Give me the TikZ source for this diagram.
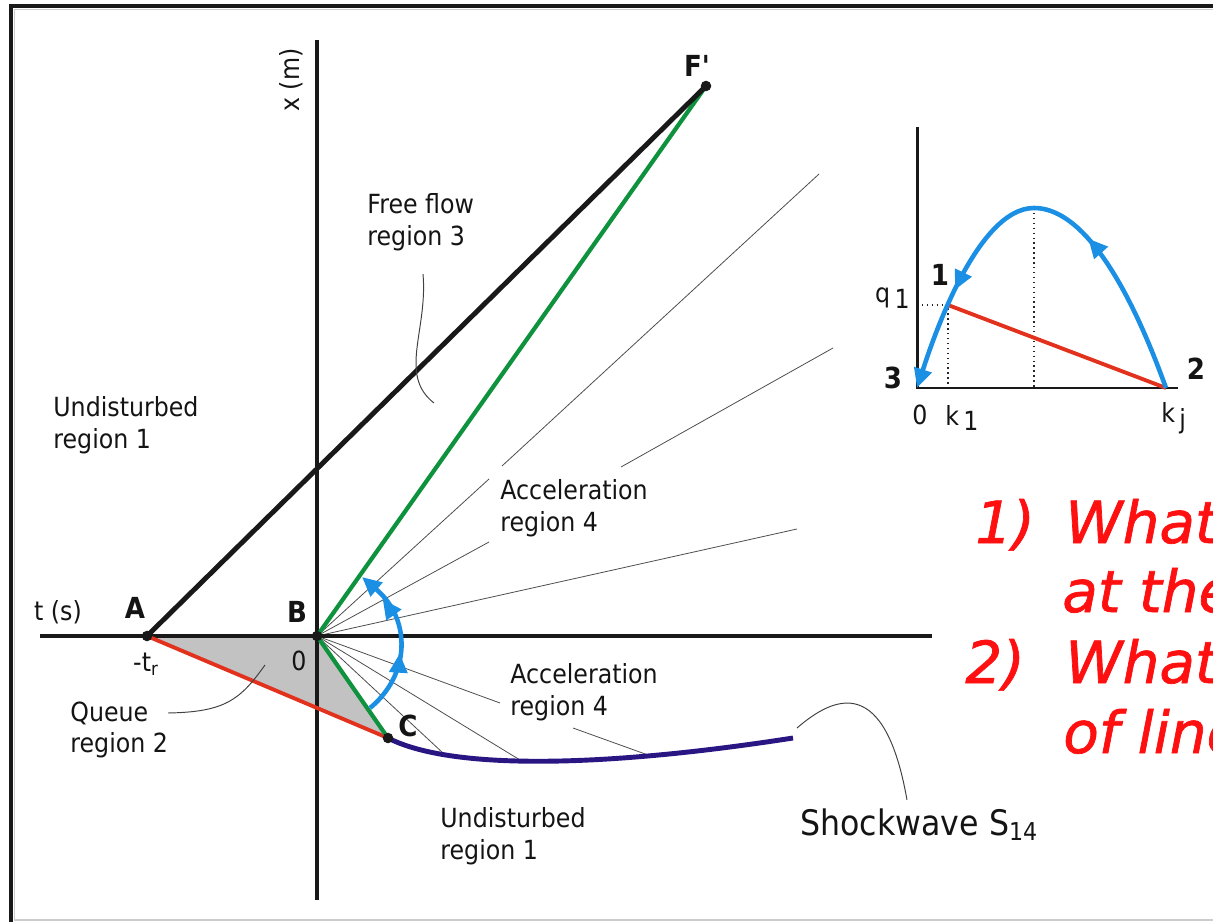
\documentclass[tikz,border=0pt]{standalone}
\usepackage{fontspec}
\usepackage{tikz}
\usetikzlibrary{arrows.meta, decorations.markings}
\newfontfamily\lblfont{DejaVu Sans}[FakeStretch=0.9]
\newfontfamily\askfont{DejaVu Sans}[FakeBold=1.2]
\definecolor{KW_RED}{HTML}{E2321E}
\definecolor{KW_GREEN}{HTML}{0E923E}
\definecolor{KW_BLUE}{HTML}{1A8FE3}
\definecolor{KW_NAVY}{HTML}{2A1682}
\definecolor{KW_FILL}{HTML}{C2C2C2}
\definecolor{KW_ASK}{HTML}{FF1010}
\definecolor{KW_EDGE}{HTML}{CCCCCC}
\tikzset{
  lbl/.style={inner sep=0pt, align=left, text=black!92,
    font=\lblfont\fontsize{15pt}{18.1pt}\selectfont},
  pnt/.style={inner sep=0pt, text=black!92,
    font=\lblfont\bfseries\fontsize{16.5pt}{19pt}\selectfont},
  ask/.style={inner sep=0pt, anchor=base west, text=KW_ASK,
    font=\askfont\itshape\fontsize{33pt}{40pt}\selectfont},
  axis/.style={line width=2pt, black!90},
  inaxis/.style={line width=1.7pt, black!90},
  fan/.style={line width=0.45pt, black!70},
  leader/.style={line width=0.55pt, black!75},
  guide/.style={line width=0.8pt, black!85, dotted},
  dot/.style={fill=black!90},
  flow/.style 2 args={line width=2.6pt, KW_BLUE,
    -{Triangle[length=11pt,width=10pt]},
    postaction={decorate}, decoration={markings,
      mark=at position #1 with {\arrow{Triangle[length=11pt,width=10pt]}},
      mark=at position #2 with {\arrow{Triangle[length=11pt,width=10pt]}}}},
}

\begin{document}
\begin{tikzpicture}[x=0.02cm, y=-0.02cm]
  \useasboundingbox (0,0) rectangle (1213,922);
  \clip (0,0) rectangle (1213,922);

  % frame
  \draw[KW_EDGE, line width=0.6pt] (14,9.5) -- (1213,9.5);
  \draw[KW_EDGE, line width=0.6pt] (14.5,9) -- (14.5,920) -- (1213,920);
  \draw[black!90, line width=2.3pt] (9,6) -- (1213,6);
  \draw[black!90, line width=2.3pt] (11,4) -- (11,922);

  % key points
  \coordinate (A) at (147,636);
  \coordinate (B) at (317,636);
  \coordinate (C) at (388,738);
  \coordinate (F) at (706,86);

  % queue region
  \fill[KW_FILL] (A) -- (B) -- (C) -- cycle;

  % fan of characteristics from B
  \draw[fan] (B) -- (489,479);
  \draw[fan] (502,466) -- (819,174);
  \draw[fan] (B) -- (489,542);
  \draw[fan] (621,467) -- (833,348);
  \draw[fan] (B) -- (797,529);
  \draw[fan] (B) -- (500,703);
  \draw[fan] (573,728) -- (648,755);
  \draw[fan] (B) -- (520,760);
  \draw[fan] (B) -- (443,753);

  % axes
  \coordinate (tl) at (40,636);
  \coordinate (tr) at (932,636);
  \coordinate (xt) at (317,40);
  \coordinate (xb) at (317,900);
  \draw[axis] (tl) -- (tr);
  \draw[axis] (xt) -- (xb);

  % waves
  \draw[KW_NAVY, line width=2.8pt] (C) .. controls (450,770) and (600,768) .. (793,738);
  \draw[KW_RED, line width=2.2pt] (A) -- (C);
  \draw[KW_GREEN, line width=2.4pt] (C) -- (B) -- (F);
  \draw[black!90, line width=2.8pt] (A) -- (F);

  \foreach \p in {A,B,C,F}
    \fill[dot] (\p) circle (3pt);

  % acceleration arrow
  \coordinate (arcS) at (370,708);
  \coordinate (arcE) at (362,577);
  \draw[flow={0.42}{0.8}] (arcS) .. controls (410,675) and (412,620) .. (arcE);

  % leaders
  \draw[leader] (423,274) .. controls (428,330) and (398,375) .. (434,403);
  \draw[leader] (168,713) .. controls (225,712) and (240,700) .. (265,665);
  \draw[leader] (797,728) .. controls (835,695) and (885,675) .. (907,800);

  % labels
  \node[lbl, rotate=90] (xlab) at (291,80) {x (m)};
  \node[lbl] (tlab) at (58,612) {t (s)};
  \node[pnt] (Alab) at (135,608) {A};
  \node[pnt] (Blab) at (297,612) {B};
  \node[pnt] (Clab) at (408,726) {C};
  \node[pnt] (Flab) at (697,66) {F'};
  \node[lbl] (trlab) at (146,664) {-t\textsubscript{r}};
  \node[lbl] (zlab) at (299,661) {0};
  \node[lbl, anchor=west] (free) at (367,222) {Free flow\\region 3};
  \node[lbl, anchor=west] (und1) at (53,425) {Undisturbed\\region 1};
  \node[lbl, anchor=west] (acc1) at (500,508) {Acceleration\\region 4};
  \node[lbl, anchor=west] (acc2) at (510,692) {Acceleration\\region 4};
  \node[lbl, anchor=west] (que) at (70,730) {Queue\\region 2};
  \node[lbl, anchor=west] (und2) at (440,836) {Undisturbed\\region 1};
  \node[lbl, anchor=base west, font=\lblfont\fontsize{20pt}{23pt}\selectfont]
    (shock) at (800,835) {Shockwave S\textsubscript{14}};

  % q-k inset
  \coordinate (qy) at (917,127);
  \coordinate (qo) at (917,388);
  \coordinate (qx) at (1178,388);
  \coordinate (kj) at (1166,388);
  \coordinate (qtop) at (1034,208);
  \coordinate (P1) at (948,305);
  \draw[guide] (917,305) -- (P1) -- (948,388);
  \draw[guide] (qtop) -- (1034,388);
  \draw[inaxis] (qy) -- (qo) -- (qx);
  \draw[KW_RED, line width=2.2pt] (P1) -- (kj);
  \draw[flow={0.37}{0.77}] (kj) parabola bend (qtop) (qo);

  \node[pnt] (n1) at (940,275) {1};
  \node[pnt] (n2) at (1196,369) {2};
  \node[pnt] (n3) at (893,378) {3};
  \node[lbl, anchor=east] (q1) at (910,298) {q\,\raisebox{-0.4ex}{1}};
  \node[lbl] (k0) at (920,415) {0};
  \node[lbl, anchor=west] (k1) at (945,418) {k\,\raisebox{-0.4ex}{1}};
  \node[lbl, anchor=west] (kjl) at (1161,418) {k\,\raisebox{-0.4ex}{j}};

  % questions
  \node[ask] (ask1n) at (975,543) {1)};
  \node[ask] (ask1) at (1065,543) {What};
  \node[ask] (ask2) at (1062,612) {at the};
  \node[ask] (ask3n) at (965,683) {2)};
  \node[ask] (ask3) at (1065,683) {What};
  \node[ask] (ask4) at (1063,753) {of line};
\end{tikzpicture}
\end{document}
